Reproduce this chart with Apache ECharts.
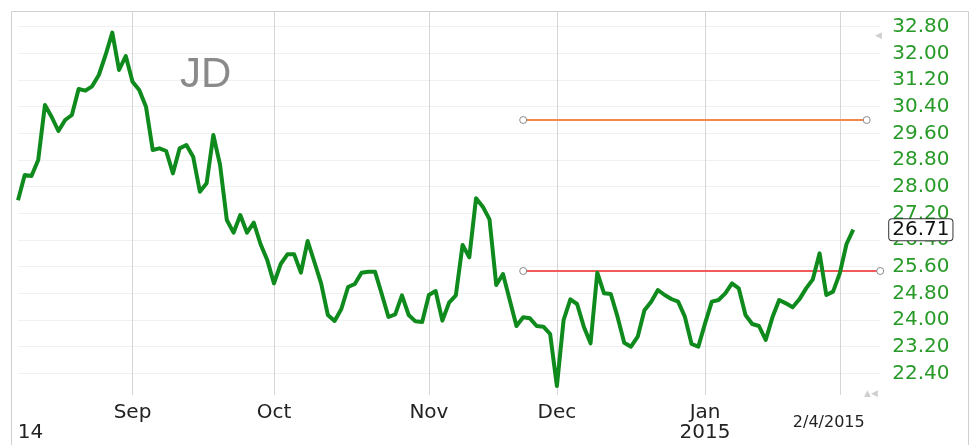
<!DOCTYPE html>
<html>
<head>
<meta charset="utf-8">
<script src="https://cdn.jsdelivr.net/npm/echarts@6/dist/echarts.min.js"></script>
<style>
html,body{margin:0;padding:0;background:#fff;}
#chart{width:973px;height:445px;}
</style>
</head>
<body>
<div id="chart"></div>
<script>
// ---- data ----
const ticker = 'JD';
const startDate = '2014-08-07';
const holidays = ['2014-09-01', '2014-11-27', '2014-12-25', '2015-01-01', '2015-01-19'];
const closes = [
  27.59, 28.35, 28.32, 28.80, 30.45, 30.09, 29.67, 30.00, 30.15, 30.93,
  30.88, 31.01, 31.35, 31.95, 32.62, 31.50, 31.92, 31.15, 30.90, 30.40,
  29.10, 29.15, 29.07, 28.40, 29.15, 29.25, 28.90, 27.85, 28.10, 29.55,
  28.65, 27.00, 26.62, 27.15, 26.62, 26.92, 26.28, 25.80, 25.10, 25.68,
  25.97, 25.97, 25.42, 26.37, 25.74, 25.10, 24.15, 23.97, 24.33, 24.99,
  25.08, 25.42, 25.45, 25.45, 24.78, 24.09, 24.17, 24.74, 24.15, 23.96,
  23.94, 24.75, 24.87, 23.98, 24.52, 24.74, 26.25, 25.88, 27.65, 27.40,
  27.02, 25.05, 25.38, 24.60, 23.82, 24.08, 24.05, 23.82, 23.80, 23.58,
  22.02, 24.00, 24.62, 24.48, 23.80, 23.30, 25.42, 24.80, 24.78, 24.10,
  23.32, 23.20, 23.50, 24.29, 24.55, 24.90, 24.75, 24.63, 24.55, 24.10,
  23.28, 23.20, 23.90, 24.55, 24.60, 24.80, 25.10, 24.95, 24.15, 23.88,
  23.82, 23.40, 24.08, 24.60, 24.50, 24.38, 24.62, 24.95, 25.22, 26.00,
  24.75, 24.85, 25.40, 26.28, 26.71
];
const extraDays = 4;                       // empty trading days to the right of the last close
const trendLines = [                       // [startIndex, endIndex, level]
  [75, 126, 30.00],
  [75, 128, 25.47]
];
const monthNames = ['Jan','Feb','Mar','Apr','May','Jun','Jul','Aug','Sep','Oct','Nov','Dec'];
const firstYearLabel = '14';
const yMin = 21.6, yMax = 33.6, yStep = 0.8;

// ---- trading-day categories ----
const dates = [];
const monthOf = [];
(function () {
  const d = new Date(startDate + 'T00:00:00Z');
  const total = closes.length + extraDays;
  while (dates.length < total) {
    const iso = d.toISOString().slice(0, 10);
    const wd = d.getUTCDay();
    if (wd !== 0 && wd !== 6 && holidays.indexOf(iso) < 0) {
      dates.push((d.getUTCMonth() + 1) + '/' + d.getUTCDate() + '/' + d.getUTCFullYear());
      monthOf.push(d.getUTCMonth());
    }
    d.setUTCDate(d.getUTCDate() + 1);
  }
})();
const monthStarts = [];
for (let i = 1; i < dates.length; i++) if (monthOf[i] !== monthOf[i - 1]) monthStarts.push(i);
const lastIdx = closes.length - 1;
const lastMonthStart = monthStarts[monthStarts.length - 1];

const FONT = 'DejaVu Sans';
const chart = echarts.init(document.getElementById('chart'), null, {renderer: 'canvas'});

const lineColors = ['#ef8a4f', '#f05a5a'];
const markLineData = trendLines.map((t, k) => [
  {coord: [dates[t[0]], t[2]], lineStyle: {color: lineColors[k], width: 2, type: 'solid'}},
  {coord: [dates[t[1]], t[2]]}
]);
const circlePts = [];
trendLines.forEach(t => {
  circlePts.push({coord: [dates[t[0]], t[2]]});
  circlePts.push({coord: [dates[t[1]], t[2]]});
});

const option = {
  animation: false,
  title: {
    text: ticker, left: 180, top: 54, padding: 0,
    textStyle: {fontFamily: 'Liberation Sans', fontSize: 42, fontWeight: 'normal', color: '#8a8a8a'}
  },
  grid: [
    {left: 18, right: 92.8, top: 0, bottom: 45, containLabel: false, outerBoundsMode: 'none'},
    {left: 18, right: 92.8, top: 11, bottom: 50, containLabel: false, outerBoundsMode: 'none'}
  ],
  xAxis: [
    {
      gridIndex: 0, type: 'category', data: dates, boundaryGap: false,
      axisLine: {show: false}, axisTick: {show: false}, splitLine: {show: false},
      axisLabel: {
        margin: 3, fontFamily: FONT, fontSize: 20, lineHeight: 20, color: '#222',
        hideOverlap: false,
        interval: (i) => i === 0 || monthStarts.indexOf(i) >= 0,
        formatter: function (v, i) {
          if (i === 0) return ' \n{yl|' + firstYearLabel + '}';
          if (i === lastMonthStart) return '{cur|' + dates[lastIdx] + '}';
          const m = monthOf[i];
          if (m === 0) return monthNames[m] + '\n' + dates[i].split('/')[2];
          return monthNames[m];
        },
        rich: {
          yl: {fontFamily: FONT, fontSize: 20, lineHeight: 20, color: '#222', padding: [0, 0, 0, 25]},
          cur: {fontFamily: FONT, fontSize: 16, lineHeight: 40, color: '#222', padding: [0, 22, 0, 0]}
        }
      }
    },
    {
      gridIndex: 1, type: 'category', data: dates, boundaryGap: false,
      axisLine: {show: false}, axisTick: {show: false}, axisLabel: {show: false},
      splitLine: {show: true, interval: (i) => monthStarts.indexOf(i) >= 0,
        lineStyle: {color: '#d6d6d6', width: 1}}
    }
  ],
  yAxis: [
    {
      gridIndex: 0, type: 'value', position: 'right', min: yMin, max: yMax, interval: yStep,
      axisLine: {show: false}, axisTick: {show: false},
      splitLine: {show: true, showMinLine: false, showMaxLine: false, lineStyle: {color: '#f0f0f0', width: 1}},
      axisLabel: {
        margin: 12, fontFamily: FONT, fontSize: 20, color: '#279a27',
        showMinLabel: false, showMaxLabel: false,
        formatter: (v) => v.toFixed(2)
      }
    },
    {gridIndex: 1, type: 'value', show: false, splitLine: {show: false}}
  ],
  series: [
    {
      type: 'line', xAxisIndex: 0, yAxisIndex: 0, data: closes,
      showSymbol: false, symbol: 'none', z: 5,
      lineStyle: {color: '#0f8a1d', width: 4, join: 'round'},
      markLine: {
        silent: true, symbol: ['none', 'none'], animation: false,
        label: {show: false},
        data: markLineData
      },
      markPoint: {
        silent: true, animation: false,
        data: circlePts.map(p => Object.assign({
          symbol: 'circle', symbolSize: 7,
          itemStyle: {color: '#fff', borderColor: '#8a8a8a', borderWidth: 1},
          label: {show: false}
        }, p)).concat([{
          coord: [dates[dates.length - 1], closes[lastIdx]],
          symbol: 'circle', symbolSize: 0,
          label: {
            show: true, position: 'right', distance: 9,
            formatter: closes[lastIdx].toFixed(2),
            fontFamily: FONT, fontSize: 20, color: '#111',
            backgroundColor: '#fff', borderColor: '#333', borderWidth: 1, borderRadius: 3,
            padding: [1, 3, 0, 3]
          }
        }])
      }
    }
  ],
  graphic: [
    {type: 'rect', silent: true, z: -10, shape: {x: 11.5, y: 11.5, width: 957, height: 440},
      style: {fill: null, stroke: '#cfcfcf', lineWidth: 1}},
    {type: 'text', silent: true, left: 875, top: 31,
      style: {text: '\u25C0', fill: '#d0d0d0', font: '9px DejaVu Sans'}},
    {type: 'text', silent: true, left: 864, top: 389,
      style: {text: '\u25B2\u25C0', fill: '#d0d0d0', font: '9px DejaVu Sans'}}
  ]
};
chart.setOption(option);
</script>
</body>
</html>
